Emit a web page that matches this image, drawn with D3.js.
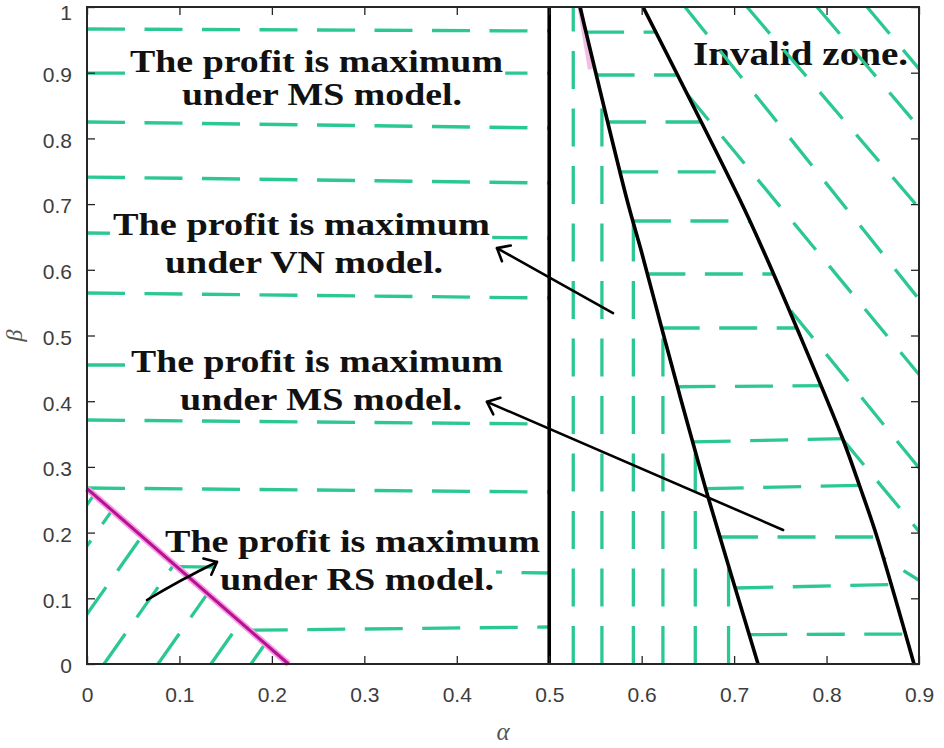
<!DOCTYPE html>
<html><head><meta charset="utf-8">
<script src="https://cdn.jsdelivr.net/npm/d3@7"></script>
<style>body{margin:0;background:#fff;} svg{display:block}</style>
</head><body>
<svg id="chart" width="944" height="748"></svg>
<script>
// ---------------- data ----------------
const xTicks = [0, 0.1, 0.2, 0.3, 0.4, 0.5, 0.6, 0.7, 0.8, 0.9];
const xTickLabels = ["0", "0.1", "0.2", "0.3", "0.4", "0.5", "0.6", "0.7", "0.8", "0.9"];
const yTicks = [0, 0.1, 0.2, 0.3, 0.4, 0.5, 0.6, 0.7, 0.8, 0.9, 1];
const yTickLabels = ["0", "0.1", "0.2", "0.3", "0.4", "0.5", "0.6", "0.7", "0.8", "0.9", "1"];

// vertical boundary alpha = 0.5
const boundaryAlpha = [0.5, 0.5];
const boundaryBeta = [0, 1];
// first black curve (VN / MS boundary)
const curve1Alpha = [0.5333, 0.5842, 0.5993, 0.6231, 0.6426, 0.6567, 0.6718, 0.7259];
const curve1Beta  = [1.0, 0.7062, 0.6301, 0.5038, 0.4018, 0.3303, 0.2542, 0.0];
// second black curve (invalid-zone boundary)
const curve2Alpha = [0.6015, 0.7064, 0.7313, 0.7692, 0.8167, 0.8362, 0.8546, 0.8946];
const curve2Beta  = [1.0, 0.7062, 0.6301, 0.5068, 0.3455, 0.2694, 0.1933, 0.0];
// magenta RS boundary
const rsAlpha = [0, 0.218];
const rsBeta  = [0.267, 0];
const smearAlpha = [0.5333, 0.5445];
const smearBeta  = [1.0, 0.905];

// hatch: left MS region (horizontal dashes), beta at alpha=0 and at alpha=0.5
const msLeftBetaStart = [0.9665, 0.8995, 0.8250, 0.7412, 0.6560, 0.5647, 0.4551, 0.3714, 0.2679, 0.1507, 0.0487];
const msLeftBetaEnd   = [0.9635, 0.8995, 0.8158, 0.7321, 0.6484, 0.5571, 0.4551, 0.3653, 0.2618, 0.1385, 0.0563];
const msLeftAlphaEnd  = [0.5, 0.5, 0.5, 0.5, 0.5, 0.5, 0.45, 0.5, 0.5, 0.5, 0.5];
// hatch: VN strip (vertical dashes)
const vnAlpha = [0.526, 0.557, 0.591, 0.623, 0.658, 0.694];
// hatch: right MS region (horizontal dashes), beta at alpha=0.6 and alpha=0.9
const msRightBetaLeft  = [0.9619, 0.8965, 0.8250, 0.7489, 0.6743, 0.5936, 0.5114, 0.4216, 0.3364, 0.2648, 0.1933, 0.1126, 0.0441];
const msRightBetaRight = [0.9619, 0.8965, 0.8250, 0.7489, 0.6743, 0.5936, 0.5114, 0.4247, 0.3455, 0.2740, 0.1933, 0.1218, 0.0457];
// hatch: invalid zone (diagonal "\" dashes), alpha where each line meets beta=1 and beta=0
const invTopAlpha    = [0.8438, 0.7897, 0.7140, 0.6469, 0.5712, 0.4933, 0.4295, -0.093];
const invBottomAlpha = [1.441, 1.392, 1.322, 1.216, 1.159, 1.073, 1.019, 1.045];
// hatch: RS triangle (diagonal "/" dashes), alpha at beta=0 and at beta=0.3
const rsHatchAlpha0  = [-0.1212, -0.0898, -0.0379, 0.0184, 0.0768, 0.1341, 0.1774];
const rsHatchAlpha03 = [0.0288, 0.0602, 0.1121, 0.1684, 0.2268, 0.2841, 0.3274];

// annotations
const labelLines = [
  ["The profit is maximum", "under MS model."],
  ["The profit is maximum", "under VN model."],
  ["The profit is maximum", "under MS model."],
  ["The profit is maximum", "under RS model."]
];
const labelAlpha = [[0.0465, 0.1028], [0.0281, 0.0844], [0.0476, 0.1006], [0.0844, 0.1439]];
const labelBeta  = [[0.9011, 0.8508], [0.6530, 0.5951], [0.4444, 0.3866], [0.1705, 0.1126]];
const invalidLabel = "Invalid zone.";
const invalidAlpha = 0.6556, invalidBeta = 0.9117;
// arrows: tail, head (and optional bend control)
const arrowTailAlpha = [0.569, 0.753, 0.0649];
const arrowTailBeta  = [0.534, 0.204, 0.0974];
const arrowHeadAlpha = [0.4435, 0.4327, 0.1406];
const arrowHeadBeta  = [0.633, 0.399, 0.1553];
const arrowCtrlAlpha = [null, null, 0.1006];
const arrowCtrlBeta  = [null, null, 0.1279];

// ---------------- layout / style ----------------
const labelWidths = [[373, 280], [377, 278], [372, 282], [375, 274]];
const GREEN = "#2cc892";
const DASH = "38,19.5";
const SERIF = "'Liberation Serif', 'Times New Roman', serif";

const svg = d3.select("#chart");
svg.append("rect").attr("width", 944).attr("height", 748).attr("fill", "#fff");
const x = d3.scaleLinear().domain([0, 0.9]).range([87, 919]);
const y = d3.scaleLinear().domain([0, 1]).range([664, 7]);
const defs = svg.append("defs");

const pts = (a, b) => a.map((v, i) => [x(v), y(b[i])]);
const smooth = d3.line().curve(d3.curveCatmullRom.alpha(0.5));
const straight = d3.line();
const c1 = pts(curve1Alpha, curve1Beta);
const c2 = pts(curve2Alpha, curve2Beta);
const c1Path = smooth(c1), c2Path = smooth(c2);
const c2Rev = smooth(c2.slice().reverse());
const asL = p => "L" + p.slice(1);

function addClip(id, d) {
  defs.append("clipPath").attr("id", id).append("path").attr("d", d);
}
addClip("clipPlot", `M${x(0)},${y(1)}H${x(0.9)}V${y(0)}H${x(0)}Z`);
addClip("clipA", `M${x(0)},${y(1)}L${x(0.5)},${y(1)}L${x(0.5)},${y(0)}L${x(rsAlpha[1])},${y(rsBeta[1])}L${x(rsAlpha[0])},${y(rsBeta[0])}Z`);
addClip("clipB", `M${x(0.5)},${y(0)}L${x(0.5)},${y(1)}` + asL(c1Path) + "Z");
addClip("clipC", c1Path + asL(c2Rev) + "Z");
addClip("clipD", c2Path + `L${x(0.9) + 2},${y(0)}L${x(0.9) + 2},${y(1)}Z`);
addClip("clipE", `M${x(0)},${y(0)}L${x(rsAlpha[0])},${y(rsBeta[0])}L${x(rsAlpha[1])},${y(rsBeta[1])}Z`);

const plot = svg.append("g").attr("clip-path", "url(#clipPlot)");
function hatch(clipId, segs, dash) {
  plot.append("g").attr("clip-path", `url(#${clipId})`)
    .selectAll("path").data(segs).join("path")
    .attr("d", s => straight(s))
    .attr("fill", "none").attr("stroke", GREEN).attr("stroke-width", 3.3)
    .attr("stroke-dasharray", dash);
}

// region A: left MS
const rsSlope = (rsBeta[1] - rsBeta[0]) / (rsAlpha[1] - rsAlpha[0]);
const segA = msLeftBetaStart.map((bs, i) => {
  const be = msLeftBetaEnd[i];
  const k = (be - bs) / 0.5;
  let a0 = 0;
  if (bs < rsBeta[0]) a0 = (rsBeta[0] - bs) / (k - rsSlope);
  const a1 = msLeftAlphaEnd[i];
  return [[x(a0), y(bs + k * a0)], [x(a1), y(bs + k * a1)]];
});
hatch("clipA", segA, DASH);

// region B: VN vertical strip
const segB = vnAlpha.map(a => [[x(a), y(0)], [x(a), y(1)]]);
hatch("clipB", segB, DASH);

// region C: right MS
const c1At = d3.scaleLinear().domain(curve1Beta).range(curve1Alpha);
const segC = msRightBetaLeft.map((bl, i) => {
  const br = msRightBetaRight[i];
  const f = a => bl + (br - bl) * (a - 0.6) / 0.3;
  let a = c1At(bl);
  for (let t = 0; t < 4; t++) a = c1At(f(a));
  return [[x(a), y(f(a))], [x(0.92), y(f(0.92))]];
});
hatch("clipC", segC, DASH);

// region D: invalid zone
const segD = invTopAlpha.map((t, i) => [[x(t), y(1)], [x(invBottomAlpha[i]), y(0)]]);
hatch("clipD", segD, "35,21");

// region E: RS triangle
const segE = rsHatchAlpha0.map((a, i) => [[x(a), y(0)], [x(rsHatchAlpha03[i]), y(0.3)]]);
hatch("clipE", segE, "37,20");

// ---------------- layers ----------------
const bgLayer = svg.append("g");
const curveLayer = svg.append("g");
const labelLayer = svg.append("g");

// curves
curveLayer.append("path").attr("d", straight(pts(smearAlpha, smearBeta)))
  .attr("stroke", "#e070c8").attr("stroke-width", 5).attr("opacity", 0.45).attr("fill", "none");
curveLayer.append("path").attr("d", straight(pts(rsAlpha, rsBeta)))
  .attr("stroke", "#f79ae6").attr("stroke-width", 6.5).attr("fill", "none");
curveLayer.append("path").attr("d", straight(pts(rsAlpha, rsBeta)))
  .attr("stroke", "#b4128f").attr("stroke-width", 3).attr("fill", "none");
curveLayer.append("path").attr("d", straight(pts(boundaryAlpha, boundaryBeta)))
  .attr("stroke", "#000").attr("stroke-width", 3.6).attr("fill", "none");
curveLayer.append("path").attr("d", c1Path)
  .attr("stroke", "#000").attr("stroke-width", 3.6).attr("fill", "none");
curveLayer.append("path").attr("d", c2Path)
  .attr("stroke", "#000").attr("stroke-width", 3.6).attr("fill", "none");

// labels with white backgrounds
labelLines.forEach((lines, i) => {
  lines.forEach((txt, j) => {
    const t = labelLayer.append("text")
      .attr("x", x(labelAlpha[i][j])).attr("y", y(labelBeta[i][j]))
      .attr("font-family", SERIF).attr("font-weight", "bold")
      .attr("font-size", 31).attr("fill", "#111")
      .attr("textLength", labelWidths[i][j]).attr("lengthAdjust", "spacingAndGlyphs")
      .text(txt);
    const bb = t.node().getBBox();
    bgLayer.append("rect").attr("x", bb.x - 3).attr("y", bb.y + 3)
      .attr("width", bb.width + 5).attr("height", bb.height - 5).attr("fill", "#fff");
  });
});
// invalid zone label (hatch passes over it)
plot.insert("text", ":first-child")
  .attr("x", x(invalidAlpha)).attr("y", y(invalidBeta))
  .attr("font-family", SERIF).attr("font-weight", "bold")
  .attr("font-size", 33).attr("fill", "#111")
  .attr("textLength", 215).attr("lengthAdjust", "spacingAndGlyphs")
  .text(invalidLabel);

// ---------------- axes ----------------
const axLayer = svg.append("g");
const tickStyle = g => {
  g.select(".domain").remove();
  g.selectAll(".tick line").attr("stroke", "#262626").attr("stroke-width", 1.3);
  g.selectAll(".tick text").attr("fill", "#3d3d3d")
    .attr("font-family", "'Liberation Sans', Arial, sans-serif").attr("font-size", 21);
};
axLayer.append("g").attr("transform", `translate(0,${y(0)})`)
  .call(d3.axisBottom(x).tickValues(xTicks).tickFormat((d, i) => xTickLabels[i]).tickSize(-8).tickPadding(23))
  .call(tickStyle);
axLayer.append("g").attr("transform", `translate(0,${y(1)})`)
  .call(d3.axisTop(x).tickValues(xTicks).tickFormat("").tickSize(-8))
  .call(tickStyle);
axLayer.append("g").attr("transform", `translate(${x(0)},0)`)
  .call(d3.axisLeft(y).tickValues(yTicks).tickFormat((d, i) => yTickLabels[i]).tickSize(-8).tickPadding(15))
  .call(tickStyle)
  .call(g => g.selectAll(".tick text").attr("dy", d => d === 1 ? "0.6em" : "0.42em"));
axLayer.append("g").attr("transform", `translate(${x(0.9)},0)`)
  .call(d3.axisRight(y).tickValues(yTicks).tickFormat("").tickSize(-8))
  .call(tickStyle);
axLayer.append("rect").attr("x", x(0)).attr("y", y(1)).attr("width", x(0.9) - x(0)).attr("height", y(0) - y(1))
  .attr("fill", "none").attr("stroke", "#262626").attr("stroke-width", 2);

axLayer.append("text").attr("x", (x(0) + x(0.9)) / 2).attr("y", 740)
  .attr("text-anchor", "middle").attr("font-family", SERIF).attr("font-style", "italic")
  .attr("font-size", 25).attr("fill", "#555").text("α");
axLayer.append("text").attr("transform", `translate(22,${(y(0) + y(1)) / 2}) rotate(-90)`)
  .attr("text-anchor", "middle").attr("font-family", SERIF).attr("font-style", "italic")
  .attr("font-size", 24).attr("fill", "#555").text("β");

// ---------------- arrows ----------------
const arrowLayer = svg.append("g").attr("stroke", "#000").attr("stroke-width", 2.6).attr("fill", "none")
  .attr("stroke-linecap", "round").attr("stroke-linejoin", "round");
arrowTailAlpha.forEach((ta, i) => {
  const p0 = [x(ta), y(arrowTailBeta[i])];
  const p1 = [x(arrowHeadAlpha[i]), y(arrowHeadBeta[i])];
  let d, from;
  if (arrowCtrlAlpha[i] !== null) {
    const c = [x(arrowCtrlAlpha[i]), y(arrowCtrlBeta[i])];
    d = `M${p0}Q${c} ${p1}`;
    from = c;
  } else {
    d = `M${p0}L${p1}`;
    from = p0;
  }
  arrowLayer.append("path").attr("d", d);
  const ang = Math.atan2(from[1] - p1[1], from[0] - p1[0]);
  const len = 14, spread = 40 * Math.PI / 180;
  const a1 = [p1[0] + len * Math.cos(ang - spread), p1[1] + len * Math.sin(ang - spread)];
  const a2 = [p1[0] + len * Math.cos(ang + spread), p1[1] + len * Math.sin(ang + spread)];
  arrowLayer.append("path").attr("d", `M${a1}L${p1}L${a2}`);
});
</script>
</body></html>
